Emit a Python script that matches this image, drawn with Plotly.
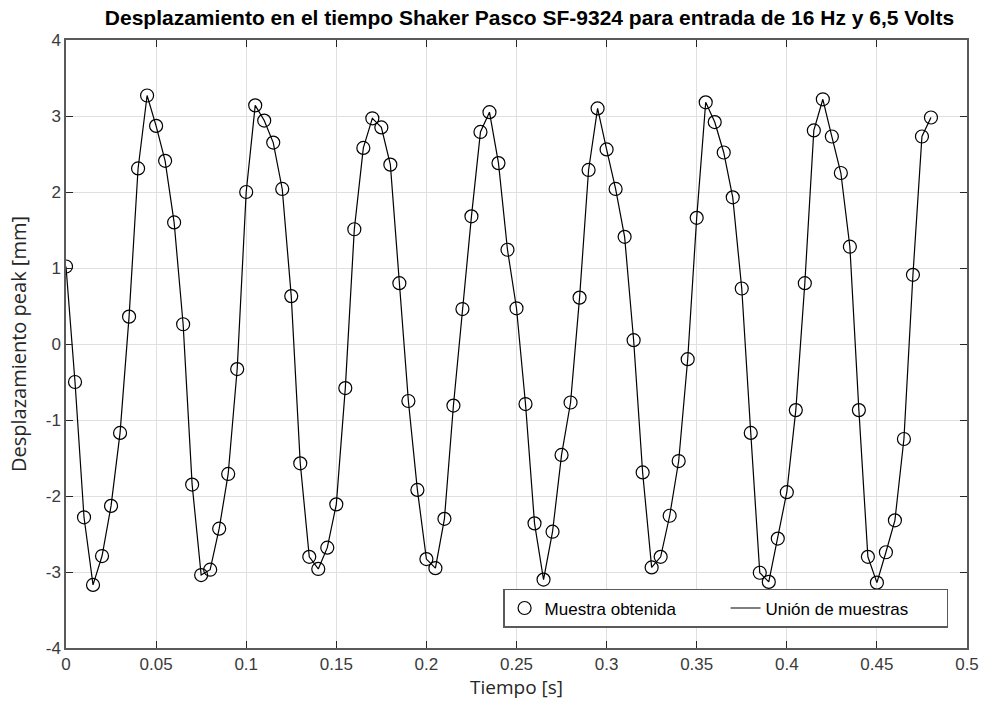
import plotly.graph_objects as go

# Tiempo de muestreo [s]
tiempo = [
    0.000, 0.005, 0.010, 0.015, 0.020, 0.025, 0.030, 0.035, 0.040, 0.045,
    0.050, 0.055, 0.060, 0.065, 0.070, 0.075, 0.080, 0.085, 0.090, 0.095,
    0.100, 0.105, 0.110, 0.115, 0.120, 0.125, 0.130, 0.135, 0.140, 0.145,
    0.150, 0.155, 0.160, 0.165, 0.170, 0.175, 0.180, 0.185, 0.190, 0.195,
    0.200, 0.205, 0.210, 0.215, 0.220, 0.225, 0.230, 0.235, 0.240, 0.245,
    0.250, 0.255, 0.260, 0.265, 0.270, 0.275, 0.280, 0.285, 0.290, 0.295,
    0.300, 0.305, 0.310, 0.315, 0.320, 0.325, 0.330, 0.335, 0.340, 0.345,
    0.350, 0.355, 0.360, 0.365, 0.370, 0.375, 0.380, 0.385, 0.390, 0.395,
    0.400, 0.405, 0.410, 0.415, 0.420, 0.425, 0.430, 0.435, 0.440, 0.445,
    0.450, 0.455, 0.460, 0.465, 0.470, 0.475, 0.480,
]

# Desplazamiento peak [mm]
desplazamiento = [
    1.02, -0.50, -2.28, -3.17, -2.79, -2.13, -1.17, 0.36, 2.31, 3.27,
    2.87, 2.41, 1.60, 0.26, -1.85, -3.04, -2.97, -2.43, -1.71, -0.33,
    2.00, 3.14, 2.94, 2.65, 2.04, 0.63, -1.57, -2.80, -2.96, -2.68,
    -2.11, -0.58, 1.51, 2.58, 2.97, 2.85, 2.36, 0.80, -0.75, -1.92,
    -2.83, -2.95, -2.30, -0.81, 0.46, 1.68, 2.79, 3.05, 2.38, 1.24,
    0.47, -0.79, -2.36, -3.10, -2.47, -1.46, -0.77, 0.61, 2.29, 3.10,
    2.56, 2.04, 1.41, 0.05, -1.69, -2.94, -2.80, -2.26, -1.54, -0.20,
    1.66, 3.18, 2.92, 2.52, 1.93, 0.73, -1.17, -3.01, -3.13, -2.56,
    -1.95, -0.87, 0.80, 2.81, 3.22, 2.73, 2.25, 1.28, -0.87, -2.80,
    -3.14, -2.74, -2.32, -1.25, 0.91, 2.73, 2.98,
]

x_ticks = [0, 0.05, 0.1, 0.15, 0.2, 0.25, 0.3, 0.35, 0.4, 0.45, 0.5]
x_labels = ["0", "0.05", "0.1", "0.15", "0.2", "0.25", "0.3", "0.35", "0.4", "0.45", "0.5"]
y_ticks = [-4, -3, -2, -1, 0, 1, 2, 3, 4]
y_labels = ["-4", "-3", "-2", "-1", "0", "1", "2", "3", "4"]

AX = "#262626"
TXT = "#3a3a3a"
GRID = "#e0e0e0"

fig = go.Figure()
fig.add_trace(go.Scatter(
    x=tiempo, y=desplazamiento, mode="markers", name="Muestra obtenida",
    marker=dict(symbol="circle-open", size=13, color="black", line=dict(width=1.2)),
))
fig.add_trace(go.Scatter(
    x=tiempo, y=desplazamiento, mode="lines", name="Unión de muestras",
    line=dict(color="black", width=1.2),
))

axis_common = dict(
    showgrid=True, gridcolor=GRID, gridwidth=1,
    showline=True, linecolor="#5a5a5a", linewidth=1.5, mirror="ticks",
    ticks="inside", ticklen=7, tickcolor=AX,
    zeroline=False, automargin=False,
    tickfont=dict(family="Liberation Sans, Arial", size=17, color=TXT),
)

fig.update_xaxes(
    range=[0, 0.5], tickvals=x_ticks, ticktext=x_labels,
    title=dict(text="Tiempo [s]", font=dict(family="Open Sans", size=19, color=AX), standoff=8),
    **axis_common,
)
fig.update_yaxes(
    range=[-4, 4], tickvals=y_ticks, ticktext=y_labels,
    title=dict(text="Desplazamiento peak [mm]", font=dict(family="Open Sans", size=20, color=AX), standoff=14),
    **axis_common,
)

fig.update_layout(
    width=986, height=717,
    margin=dict(l=66, r=19, t=40, b=69),
    paper_bgcolor="white", plot_bgcolor="white",
    title=dict(
        text="<b>Desplazamiento en el tiempo Shaker Pasco SF-9324 para entrada de 16 Hz y 6,5 Volts</b>",
        font=dict(family="Liberation Sans, Arial", size=21, color="black"),
        x=0.537, xref="container", xanchor="center", y=0.975, yanchor="middle",
    ),
    legend=dict(
        orientation="h", x=0.979, xanchor="right", y=0.033, yanchor="bottom",
        bgcolor="white", bordercolor="#5a5a5a", borderwidth=1.5,
        entrywidth=176, entrywidthmode="pixels",
        font=dict(family="Liberation Sans, Arial", size=17, color="black"),
    ),
    showlegend=True,
)

fig.write_html(
    "out.html",
    config={"displayModeBar": False},
    post_script="document.body.style.margin='0';",
)
